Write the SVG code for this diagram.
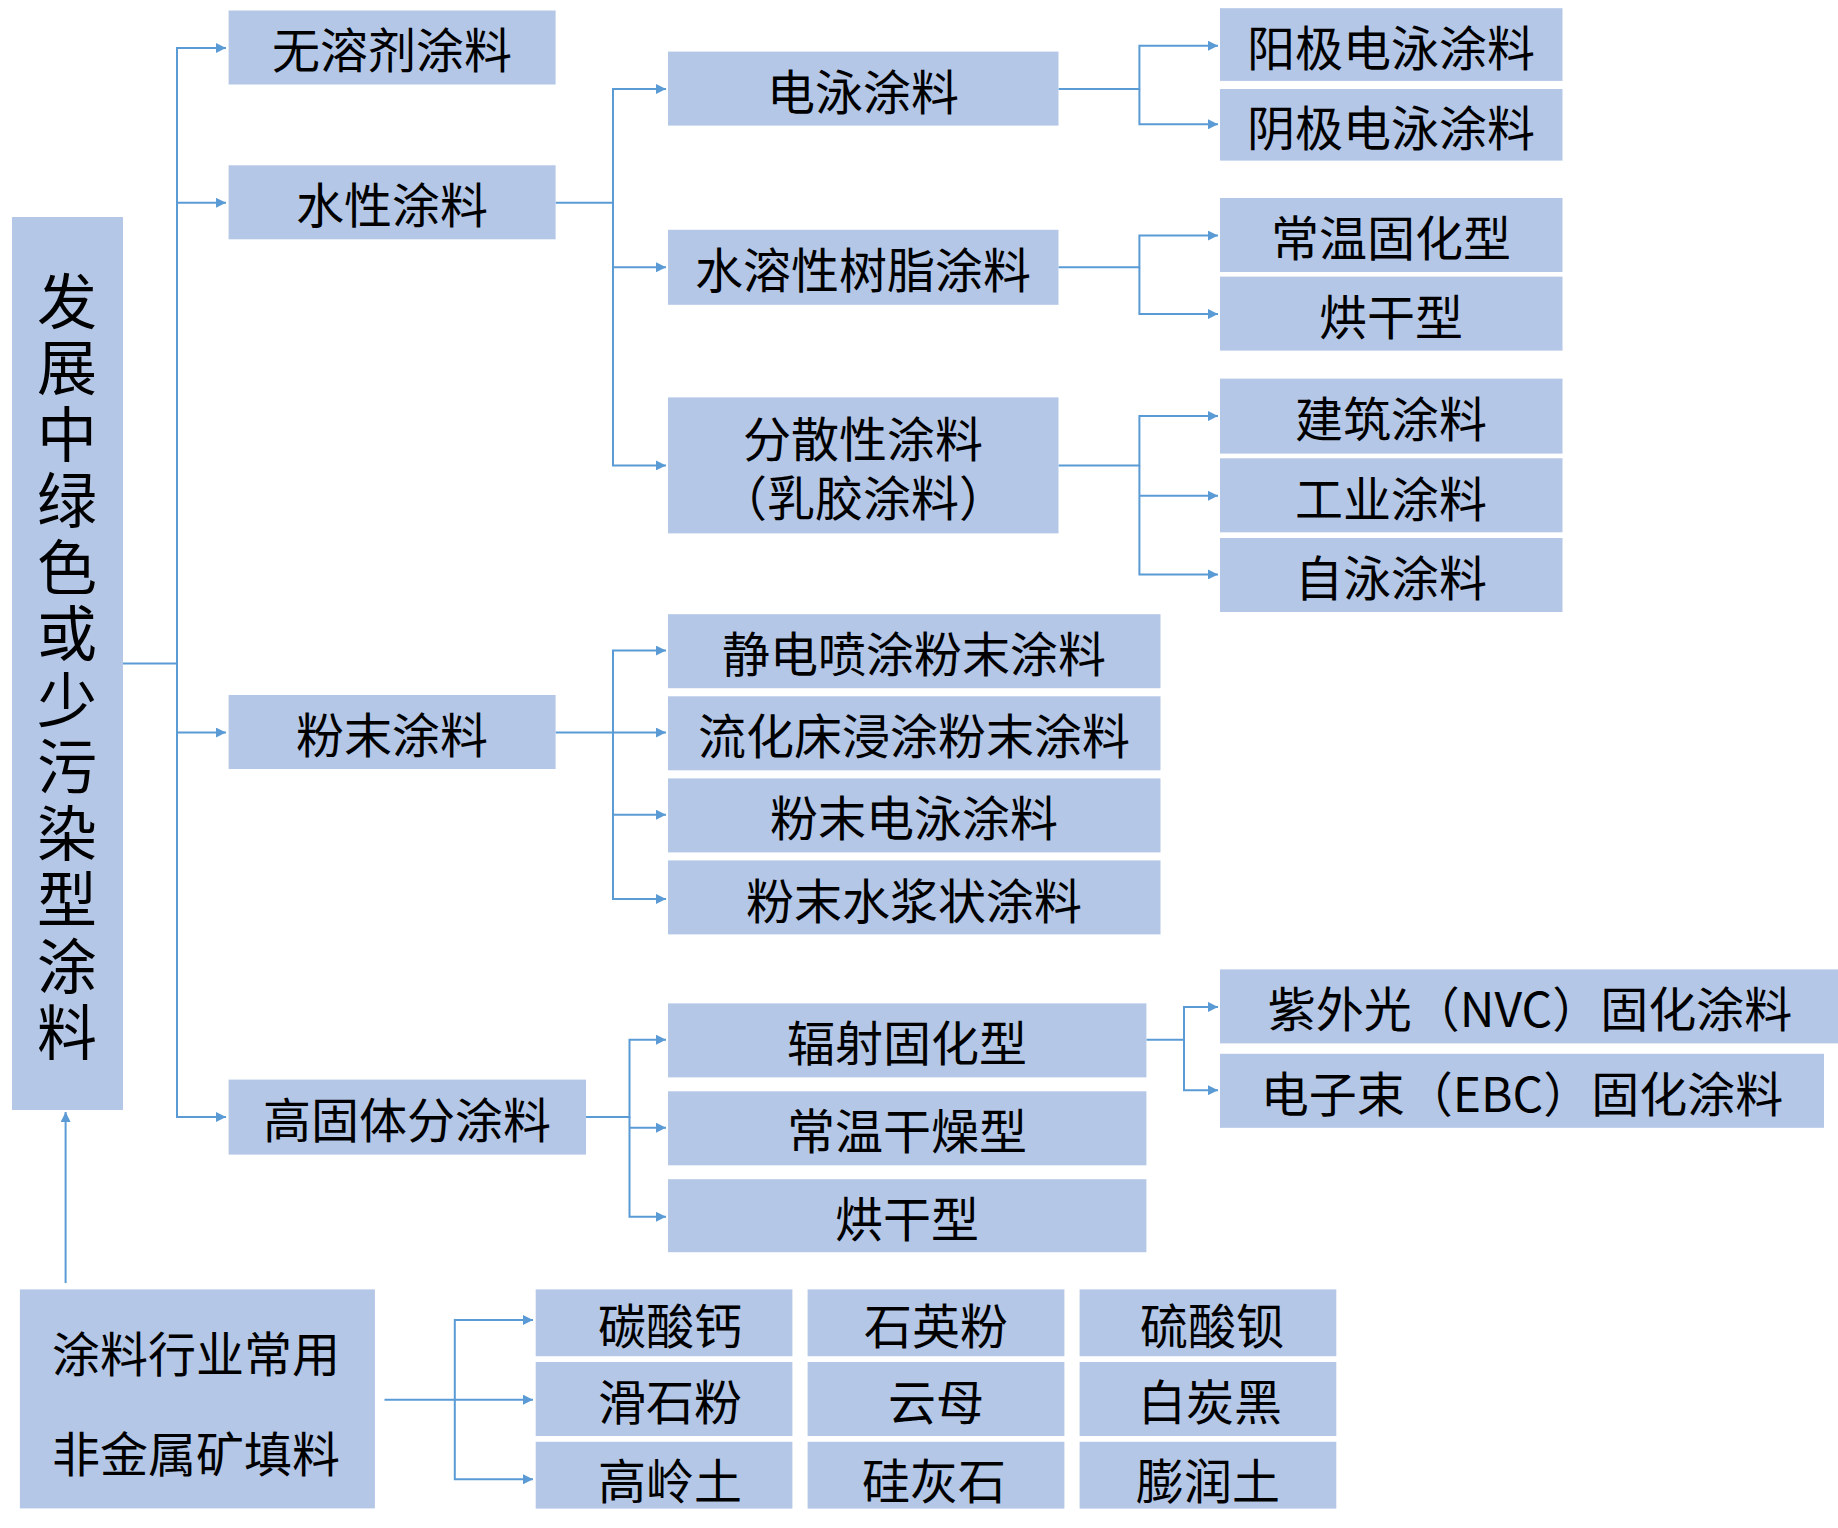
<svg xmlns="http://www.w3.org/2000/svg" width="1838" height="1528" viewBox="0 0 1838 1528">
<style>
.b{fill:#b4c7e7}
.t{font-family:"Noto Sans CJK SC","Noto Sans",sans-serif;font-size:48px;fill:#000;text-anchor:middle;dominant-baseline:central}
.c{fill:none;stroke:#5b9bd5;stroke-width:2}
</style>
<defs><marker id="a" viewBox="0 0 10 10" refX="10" refY="5" markerWidth="10" markerHeight="10" markerUnits="userSpaceOnUse" orient="auto"><path d="M0,0L10,5L0,10z" fill="#5b9bd5"/></marker></defs>
<rect width="1838" height="1528" fill="#fff"/>
<g id="connectors" class="c">
<path d="M123,663.5H177V48H226" marker-end="url(#a)"/>
<path d="M177,663.5V1117H226" marker-end="url(#a)"/>
<path d="M177,202.8H226" marker-end="url(#a)"/>
<path d="M177,732.6H226" marker-end="url(#a)"/>
<path d="M555.6,202.8H613V89H666" marker-end="url(#a)"/>
<path d="M613,202.8V465.4H666" marker-end="url(#a)"/>
<path d="M613,267.3H666" marker-end="url(#a)"/>
<path d="M1058.5,89H1139.4V45.7H1218" marker-end="url(#a)"/>
<path d="M1139.4,89V124.3H1218" marker-end="url(#a)"/>
<path d="M1058.5,267.3H1139.4V235.6H1218" marker-end="url(#a)"/>
<path d="M1139.4,267.3V314.1H1218" marker-end="url(#a)"/>
<path d="M1058.5,465.4H1139.4V416.1H1218" marker-end="url(#a)"/>
<path d="M1139.4,465.4V574.4H1218" marker-end="url(#a)"/>
<path d="M1139.4,495.8H1218" marker-end="url(#a)"/>
<path d="M555.6,732.6H613V650.6H666" marker-end="url(#a)"/>
<path d="M613,732.6V899H666" marker-end="url(#a)"/>
<path d="M613,732.6H666" marker-end="url(#a)"/>
<path d="M613,814.7H666" marker-end="url(#a)"/>
<path d="M586,1117.1H629.5V1039.7H666" marker-end="url(#a)"/>
<path d="M629.5,1117.1V1216.8H666" marker-end="url(#a)"/>
<path d="M629.5,1127.7H666" marker-end="url(#a)"/>
<path d="M1146.4,1039.7H1184V1006.9H1218" marker-end="url(#a)"/>
<path d="M1184,1039.7V1090.2H1218" marker-end="url(#a)"/>
<path d="M65.6,1283V1112" marker-end="url(#a)"/>
<path d="M384.5,1399.7H454.8V1320H533" marker-end="url(#a)"/>
<path d="M454.8,1399.7V1479.3H533" marker-end="url(#a)"/>
<path d="M454.8,1399.7H533" marker-end="url(#a)"/>
</g>
<g id="root"><rect class="b" x="12" y="217" width="111" height="893"/>
<text class="t" style="font-size:60px" x="67"><tspan x="67" y="297">发</tspan><tspan x="67" y="363">展</tspan><tspan x="67" y="430">中</tspan><tspan x="67" y="496">绿</tspan><tspan x="67" y="563">色</tspan><tspan x="67" y="629">或</tspan><tspan x="67" y="696">少</tspan><tspan x="67" y="762">污</tspan><tspan x="67" y="829">染</tspan><tspan x="67" y="895">型</tspan><tspan x="67" y="962">涂</tspan><tspan x="67" y="1028">料</tspan></text></g>
<g id="n1"><rect class="b" x="228.6" y="10.5" width="327" height="74"/><text class="t" x="392" y="47">无溶剂涂料</text></g>
<g id="n2"><rect class="b" x="228.6" y="165.3" width="327" height="74"/><text class="t" x="392" y="202">水性涂料</text></g>
<g id="n3"><rect class="b" x="228.6" y="695" width="327" height="74"/><text class="t" x="392" y="732">粉末涂料</text></g>
<g id="n4"><rect class="b" x="228.6" y="1079.6" width="357.4" height="75"/><text class="t" x="407" y="1117">高固体分涂料</text></g>
<g id="n5"><rect class="b" x="668" y="51.6" width="390.5" height="74"/><text class="t" x="863" y="89">电泳涂料</text></g>
<g id="n6"><rect class="b" x="668" y="229.8" width="390.5" height="75"/><text class="t" x="863" y="267">水溶性树脂涂料</text></g>
<g id="n7"><rect class="b" x="668" y="397.4" width="390.5" height="136"/><text class="t" x="863" y="436">分散性涂料</text><text class="t" x="863" y="495">（乳胶涂料）</text></g>
<g id="n8"><rect class="b" x="1220" y="8.2" width="342.5" height="72.7"/><text class="t" x="1391" y="45">阳极电泳涂料</text></g>
<g id="n9"><rect class="b" x="1220" y="89" width="342.5" height="71.6"/><text class="t" x="1391" y="125">阴极电泳涂料</text></g>
<g id="n10"><rect class="b" x="1220" y="198" width="342.5" height="74"/><text class="t" x="1391" y="235">常温固化型</text></g>
<g id="n11"><rect class="b" x="1220" y="276.6" width="342.5" height="74"/><text class="t" x="1391" y="314">烘干型</text></g>
<g id="n12"><rect class="b" x="1220" y="378.6" width="342.5" height="75"/><text class="t" x="1391" y="416">建筑涂料</text></g>
<g id="n13"><rect class="b" x="1220" y="458.3" width="342.5" height="74"/><text class="t" x="1391" y="496">工业涂料</text></g>
<g id="n14"><rect class="b" x="1220" y="538" width="342.5" height="74"/><text class="t" x="1391" y="575">自泳涂料</text></g>
<g id="n15"><rect class="b" x="668" y="614.2" width="492.5" height="74"/><text class="t" x="914" y="651">静电喷涂粉末涂料</text></g>
<g id="n16"><rect class="b" x="668" y="696.3" width="492.5" height="74"/><text class="t" x="914" y="733">流化床浸涂粉末涂料</text></g>
<g id="n17"><rect class="b" x="668" y="778.4" width="492.5" height="74"/><text class="t" x="914" y="815">粉末电泳涂料</text></g>
<g id="n18"><rect class="b" x="668" y="860.4" width="492.5" height="74"/><text class="t" x="914" y="898">粉末水浆状涂料</text></g>
<g id="n19"><rect class="b" x="668" y="1003.4" width="478.4" height="74"/><text class="t" x="907" y="1040">辐射固化型</text></g>
<g id="n20"><rect class="b" x="668" y="1091.3" width="478.4" height="74"/><text class="t" x="907" y="1128">常温干燥型</text></g>
<g id="n21"><rect class="b" x="668" y="1179.2" width="478.4" height="73"/><text class="t" x="907" y="1216">烘干型</text></g>
<g id="n22"><rect class="b" x="1220" y="969.4" width="618" height="74"/><text class="t" x="1530" y="1006">紫外光（NVC）固化涂料</text></g>
<g id="n23"><rect class="b" x="1220" y="1053.8" width="604" height="74"/><text class="t" x="1522" y="1091">电子束（EBC）固化涂料</text></g>
<g id="n24"><rect class="b" x="19.9" y="1289.4" width="355" height="219"/><text class="t" x="196" y="1351">涂料行业常用</text><text class="t" x="196" y="1451">非金属矿填料</text></g>
<g id="f1"><rect class="b" x="535.7" y="1289.4" width="256.7" height="66.8"/><text class="t" x="670" y="1323">碳酸钙</text></g>
<g id="f2"><rect class="b" x="807.6" y="1289.4" width="256.8" height="66.8"/><text class="t" x="936" y="1323">石英粉</text></g>
<g id="f3"><rect class="b" x="1079.6" y="1289.4" width="256.7" height="66.8"/><text class="t" x="1212" y="1323">硫酸钡</text></g>
<g id="f4"><rect class="b" x="535.7" y="1362" width="256.7" height="74"/><text class="t" x="670" y="1399">滑石粉</text></g>
<g id="f5"><rect class="b" x="807.6" y="1362" width="256.8" height="74"/><text class="t" x="936" y="1399">云母</text></g>
<g id="f6"><rect class="b" x="1079.6" y="1362" width="256.7" height="74"/><text class="t" x="1210" y="1399">白炭黑</text></g>
<g id="f7"><rect class="b" x="535.7" y="1441.8" width="256.7" height="66.8"/><text class="t" x="670" y="1478">高岭土</text></g>
<g id="f8"><rect class="b" x="807.6" y="1441.8" width="256.8" height="66.8"/><text class="t" x="934" y="1478">硅灰石</text></g>
<g id="f9"><rect class="b" x="1079.6" y="1441.8" width="256.7" height="66.8"/><text class="t" x="1208" y="1478">膨润土</text></g>
</svg>
